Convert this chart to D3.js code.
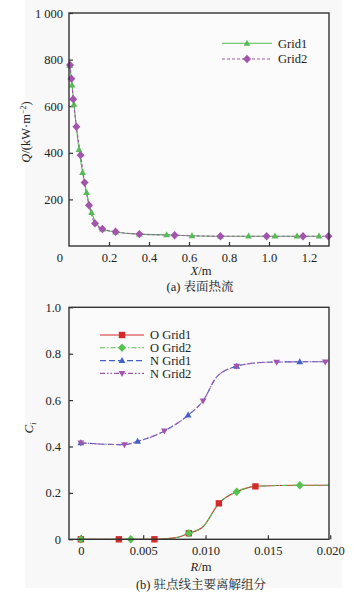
<!DOCTYPE html>
<html>
<head>
<meta charset="utf-8">
<script src="https://cdn.jsdelivr.net/npm/d3@7"></script>
<style>
  body { margin: 0; background: #fff; }
  text { font-family: "Liberation Serif", "Noto Serif CJK SC", serif; fill: #222; }
</style>
</head>
<body>
<div id="chart"></div>
<script>
// (a) surface heat flux
const grid1X = [0.004, 0.015, 0.025, 0.05, 0.068, 0.088, 0.113, 0.167, 0.233, 0.352, 0.488, 0.615, 0.757, 0.898, 1.03, 1.14, 1.25]
const grid1Q = [775, 691, 608, 414, 315, 229, 143, 72, 60, 51, 48, 44, 42, 42, 42, 42, 42]
const grid2X = [0.005, 0.012, 0.021, 0.037, 0.058, 0.078, 0.10, 0.13, 0.167, 0.233, 0.352, 0.528, 0.757, 0.988, 1.17, 1.297]
const grid2Q = [777, 718, 630, 512, 390, 272, 175, 97, 73, 61, 51, 46, 42, 42, 42, 42]
const qTicks = [0, 200, 400, 600, 800, 1000]
const xTicksA = [0.2, 0.4, 0.6, 0.8, 1.0, 1.2]

// (b) species along stagnation line: curves shared by the two grids
const oCurveR = [0, 0.003, 0.006, 0.0075, 0.00866, 0.0098, 0.01107, 0.0125, 0.014, 0.016, 0.01756, 0.0199]
const oCurveC = [0, 0, 0, 0.006, 0.026, 0.054, 0.155, 0.205, 0.228, 0.232, 0.233, 0.233]
const nCurveR = [0, 0.0018, 0.0035, 0.00455, 0.0067, 0.0086, 0.0098, 0.0109, 0.0125, 0.0145, 0.0157, 0.01756, 0.0199]
const nCurveC = [0.416, 0.410, 0.408, 0.422, 0.467, 0.535, 0.597, 0.700, 0.746, 0.762, 0.764, 0.765, 0.765]
// marker positions
const oGrid1R = [0, 0.00305, 0.0059, 0.00866, 0.01107, 0.0140]
const oGrid1C = [0, 0, 0, 0.026, 0.155, 0.228]
const oGrid2R = [0, 0.0040, 0.00866, 0.0125, 0.01756]
const oGrid2C = [0, 0, 0.026, 0.205, 0.233]
const nGrid1R = [0, 0.00455, 0.0086, 0.0125, 0.01756]
const nGrid1C = [0.416, 0.422, 0.535, 0.746, 0.765]
const nGrid2R = [0, 0.0035, 0.0067, 0.0098, 0.0125, 0.0157, 0.0196]
const nGrid2C = [0.416, 0.408, 0.467, 0.597, 0.746, 0.764, 0.765]
const cTicks = [0, 0.2, 0.4, 0.6, 0.8, 1.0]
const rTicks = [0, 0.005, 0.010, 0.015, 0.020]

const W = 354, H = 602
const FONT = '"Liberation Serif", "Noto Serif CJK SC", serif'
const svg = d3.select("#chart").append("svg").attr("width", W).attr("height", H)

// faint grey page behind the figure
svg.append("rect").attr("x", 25).attr("y", 0).attr("width", 317).attr("height", 588).attr("fill", "#f8f8f8")

const zip = (xs, ys) => xs.map((x, i) => [x, ys[i]])

// marker shapes
function marker(g, shape, cx, cy, color) {
    let s
    if (shape === "tri") s = `M${cx},${cy-3.6}L${cx+3.4},${cy+2.4}L${cx-3.4},${cy+2.4}Z`
    else if (shape === "tridown") s = `M${cx},${cy+3.6}L${cx+3.4},${cy-2.4}L${cx-3.4},${cy-2.4}Z`
    else if (shape === "diamond") s = `M${cx},${cy-4.2}L${cx+4},${cy}L${cx},${cy+4.2}L${cx-4},${cy}Z`
    else s = `M${cx-3.2},${cy-3.2}h6.4v6.4h-6.4Z`
    g.append("path").attr("d", s).attr("fill", color)
}

function frame(left, right, top, bottom) {
    svg.append("rect").attr("x", left).attr("y", top)
        .attr("width", right - left).attr("height", bottom - top)
        .attr("fill", "none").attr("stroke", "#333").attr("stroke-width", 1.4)
}

// ---------- (a) ----------
const A = {left: 69, right: 329, top: 13, bottom: 246}
const xA = d3.scaleLinear().domain([0, 1.3]).range([A.left, A.right])
const yA = d3.scaleLinear().domain([0, 1000]).range([A.bottom, A.top])

svg.append("rect").attr("x", A.left).attr("y", A.top).attr("width", A.right - A.left)
    .attr("height", A.bottom - A.top).attr("fill", "#fbfbfb")

const gA = svg.append("g")
gA.append("g").attr("transform", `translate(0,${A.bottom})`)
    .call(d3.axisBottom(xA).tickValues(xTicksA).tickSizeInner(-4).tickSizeOuter(0).tickPadding(7)
        .tickFormat(d3.format(".1f")))
    .call(g => g.select(".domain").remove())
gA.append("g").attr("transform", `translate(${A.left},0)`)
    .call(d3.axisLeft(yA).tickValues(qTicks.slice(1)).tickSizeInner(-4).tickSizeOuter(0).tickPadding(6)
        .tickFormat(d => d === 1000 ? "1 000" : d))
    .call(g => g.select(".domain").remove())
gA.selectAll(".tick line").attr("stroke", "#333").attr("stroke-width", 1.2)
gA.selectAll(".tick text").style("font-size", "12.5px").attr("fill", "#222").style("font-family", FONT)
// shared corner zero
gA.append("text").attr("x", xA(0) - 6).attr("y", A.bottom + 15.5).attr("text-anchor", "end")
    .style("font-size", "12.5px").text(qTicks[0])

const lineA = d3.line().x(d => xA(d[0])).y(d => yA(d[1])).curve(d3.curveMonotoneX)
const seriesA = [
    {name: "Grid1", pts: zip(grid1X, grid1Q), color: "#55bb55", dash: null, shape: "tri"},
    {name: "Grid2", pts: zip(grid2X, grid2Q), color: "#a354ad", dash: "3,2", shape: "diamond"}
]
seriesA.forEach(s => {
    gA.append("path").attr("d", lineA(s.pts)).attr("fill", "none")
        .attr("stroke", s.color).attr("stroke-width", 1.1).attr("stroke-dasharray", s.dash)
})
seriesA.forEach(s => s.pts.forEach(p => marker(gA, s.shape, xA(p[0]), yA(p[1]), s.color)))

// legend (a)
seriesA.forEach((s, i) => {
    const y = 43.3 + i * 15.7
    gA.append("line").attr("x1", 222).attr("x2", 272).attr("y1", y).attr("y2", y)
        .attr("stroke", s.color).attr("stroke-width", 1.1).attr("stroke-dasharray", s.dash)
    marker(gA, s.shape, 247, y, s.color)
    gA.append("text").attr("x", 278).attr("y", y + 4.3).style("font-size", "12.5px").text(s.name)
})

frame(A.left, A.right, A.top, A.bottom)

// axis titles (a)
const qLab = svg.append("text").attr("transform", "translate(30,132) rotate(-90)")
    .attr("text-anchor", "middle").style("font-size", "12.5px")
qLab.append("tspan").style("font-style", "italic").text("Q")
qLab.append("tspan").text("/(kW·m")
qLab.append("tspan").attr("dy", -4).style("font-size", "8px").text("−2")
qLab.append("tspan").attr("dy", 4).text(")")
const xLab = svg.append("text").attr("x", 201).attr("y", 275).attr("text-anchor", "middle").style("font-size", "12.5px")
xLab.append("tspan").style("font-style", "italic").text("X")
xLab.append("tspan").text("/m")
svg.append("text").attr("x", 200).attr("y", 291).attr("text-anchor", "middle").style("font-size", "12.5px")
    .text("(a) 表面热流")

// ---------- (b) ----------
const B = {left: 69, right: 329, top: 307.3, bottom: 539.3}
const xB = d3.scaleLinear().domain([-0.00095, 0.0199]).range([B.left, B.right])
const yB = d3.scaleLinear().domain([0, 1.0]).range([B.bottom, B.top])

svg.append("rect").attr("x", B.left).attr("y", B.top).attr("width", B.right - B.left)
    .attr("height", B.bottom - B.top).attr("fill", "#fbfbfb")

const gB = svg.append("g")
gB.append("g").attr("transform", `translate(0,${B.bottom})`)
    .call(d3.axisBottom(xB).tickValues(rTicks).tickSizeInner(-4).tickSizeOuter(0).tickPadding(7)
        .tickFormat(d => d === 0 ? "0" : d3.format(".3f")(d)))
    .call(g => g.select(".domain").remove())
gB.append("g").attr("transform", `translate(${B.left},0)`)
    .call(d3.axisLeft(yB).tickValues(cTicks).tickSizeInner(-4).tickSizeOuter(0).tickPadding(8)
        .tickFormat(d => d === 0 ? "0" : d3.format(".1f")(d)))
    .call(g => g.select(".domain").remove())
gB.selectAll(".tick line").attr("stroke", "#333").attr("stroke-width", 1.2)
gB.selectAll(".tick text").style("font-size", "12.5px").attr("fill", "#222").style("font-family", FONT)

const lineB = d3.line().x(d => xB(d[0])).y(d => yB(d[1])).curve(d3.curveMonotoneX)
const seriesB = [
    {name: "O Grid1", curve: zip(oCurveR, oCurveC), pts: zip(oGrid1R, oGrid1C), color: "#d42a2a", dash: null, shape: "square"},
    {name: "O Grid2", curve: zip(oCurveR, oCurveC), pts: zip(oGrid2R, oGrid2C), color: "#55c24f", dash: "5,2,1.5,2", shape: "diamond"},
    {name: "N Grid1", curve: zip(nCurveR, nCurveC), pts: zip(nGrid1R, nGrid1C), color: "#4062c4", dash: "6,3", shape: "tri"},
    {name: "N Grid2", curve: zip(nCurveR, nCurveC), pts: zip(nGrid2R, nGrid2C), color: "#a354ad", dash: "5,2,1.5,2,1.5,2", shape: "tridown"}
]
seriesB.forEach(s => {
    gB.append("path").attr("d", lineB(s.curve)).attr("fill", "none")
        .attr("stroke", s.color).attr("stroke-width", 1.1).attr("stroke-dasharray", s.dash)
})
seriesB.forEach(s => s.pts.forEach(p => marker(gB, s.shape, xB(p[0]), yB(p[1]), s.color)))

// legend (b)
seriesB.forEach((s, i) => {
    const y = 335 + i * 12.8
    gB.append("line").attr("x1", 100).attr("x2", 144).attr("y1", y).attr("y2", y)
        .attr("stroke", s.color).attr("stroke-width", 1.1).attr("stroke-dasharray", s.dash)
    marker(gB, s.shape, 122, y, s.color)
    gB.append("text").attr("x", 150).attr("y", y + 4.3).style("font-size", "12.5px").text(s.name)
})

frame(B.left, B.right, B.top, B.bottom)

// axis titles (b)
const cLab = svg.append("text").attr("transform", "translate(33,428) rotate(-90)")
    .attr("text-anchor", "middle").style("font-size", "13px")
cLab.append("tspan").style("font-style", "italic").text("C")
cLab.append("tspan").attr("dy", 3).style("font-size", "8.5px").style("font-style", "italic").text("i")
const rLab = svg.append("text").attr("x", 201).attr("y", 571).attr("text-anchor", "middle").style("font-size", "12.5px")
rLab.append("tspan").style("font-style", "italic").text("R")
rLab.append("tspan").text("/m")
svg.append("text").attr("x", 201).attr("y", 588.5).attr("text-anchor", "middle").style("font-size", "12.5px")
    .text("(b) 驻点线主要离解组分")
</script>
</body>
</html>
